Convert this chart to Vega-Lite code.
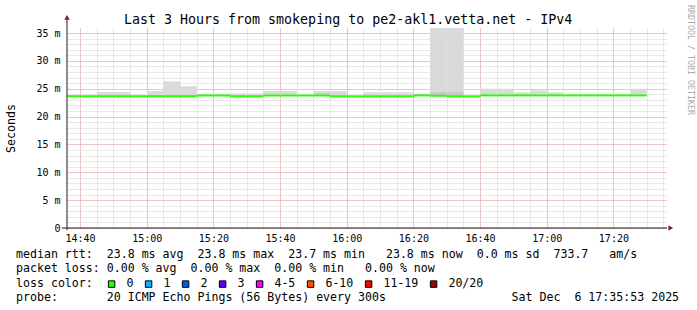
{
  "$schema": "https://vega.github.io/schema/vega-lite/v6.json",
  "width": 600,
  "height": 200,
  "autosize": {"type": "none"},
  "padding": {"left": 67, "top": 28, "right": 30, "bottom": 82},
  "background": "white",
  "config": {"view": {"stroke": null}, "font": "DejaVu Sans Mono"},
  "title": {
    "text": "Last 3 Hours from smokeping to pe2-akl1.vetta.net - IPv4",
    "font": "DejaVu Sans Mono",
    "fontSize": 13.3,
    "fontWeight": "normal",
    "color": "black",
    "anchor": "start",
    "frame": "group",
    "dx": 57,
    "dy": 35,
    "offset": 3,
    "baseline": "alphabetic"
  },
  "datasets": {
    "blocks": [
      {"t": 875, "t2": 880, "med": 23.66, "hi": null, "dhi": null, "loss": "0"},
      {"t": 880, "t2": 885, "med": 23.66, "hi": null, "dhi": null, "loss": "0"},
      {"t": 885, "t2": 890, "med": 23.66, "hi": 24.39, "dhi": null, "loss": "0"},
      {"t": 890, "t2": 895, "med": 23.66, "hi": 24.39, "dhi": null, "loss": "0"},
      {"t": 895, "t2": 900, "med": 23.66, "hi": null, "dhi": null, "loss": "0"},
      {"t": 900, "t2": 905, "med": 23.66, "hi": 24.57, "dhi": null, "loss": "0"},
      {"t": 905, "t2": 910, "med": 23.66, "hi": 26.33, "dhi": null, "loss": "0"},
      {"t": 910, "t2": 915, "med": 23.66, "hi": 25.44, "dhi": null, "loss": "0"},
      {"t": 915, "t2": 920, "med": 23.78, "hi": 24.07, "dhi": null, "loss": "0"},
      {"t": 920, "t2": 925, "med": 23.78, "hi": 24.07, "dhi": null, "loss": "0"},
      {"t": 925, "t2": 930, "med": 23.64, "hi": 24.16, "dhi": null, "loss": "0"},
      {"t": 930, "t2": 935, "med": 23.64, "hi": 24.16, "dhi": null, "loss": "0"},
      {"t": 935, "t2": 940, "med": 23.78, "hi": 24.57, "dhi": null, "loss": "0"},
      {"t": 940, "t2": 945, "med": 23.78, "hi": 24.57, "dhi": null, "loss": "0"},
      {"t": 945, "t2": 950, "med": 23.78, "hi": null, "dhi": null, "loss": "0"},
      {"t": 950, "t2": 955, "med": 23.78, "hi": 24.57, "dhi": 24.21, "loss": "0"},
      {"t": 955, "t2": 960, "med": 23.64, "hi": 24.57, "dhi": null, "loss": "0"},
      {"t": 960, "t2": 965, "med": 23.64, "hi": null, "dhi": null, "loss": "0"},
      {"t": 965, "t2": 970, "med": 23.64, "hi": 24.34, "dhi": null, "loss": "0"},
      {"t": 970, "t2": 975, "med": 23.64, "hi": 24.34, "dhi": null, "loss": "0"},
      {"t": 975, "t2": 980, "med": 23.64, "hi": 24.34, "dhi": null, "loss": "0"},
      {"t": 980, "t2": 985, "med": 23.8, "hi": 24.1, "dhi": null, "loss": "0"},
      {"t": 985, "t2": 990, "med": 23.74, "hi": 40, "dhi": 24.39, "loss": "0"},
      {"t": 990, "t2": 995, "med": 23.64, "hi": 40, "dhi": 24.39, "loss": "0"},
      {"t": 995, "t2": 1000, "med": 23.64, "hi": null, "dhi": null, "loss": "0"},
      {"t": 1000, "t2": 1005, "med": 23.8, "hi": 25.0, "dhi": null, "loss": "0"},
      {"t": 1005, "t2": 1010, "med": 23.8, "hi": 25.0, "dhi": null, "loss": "0"},
      {"t": 1010, "t2": 1015, "med": 23.8, "hi": 24.34, "dhi": null, "loss": "0"},
      {"t": 1015, "t2": 1020, "med": 23.8, "hi": 24.69, "dhi": null, "loss": "0"},
      {"t": 1020, "t2": 1025, "med": 23.8, "hi": 24.34, "dhi": null, "loss": "0"},
      {"t": 1025, "t2": 1030, "med": 23.8, "hi": null, "dhi": null, "loss": "0"},
      {"t": 1030, "t2": 1035, "med": 23.8, "hi": null, "dhi": null, "loss": "0"},
      {"t": 1035, "t2": 1040, "med": 23.8, "hi": null, "dhi": null, "loss": "0"},
      {"t": 1040, "t2": 1045, "med": 23.8, "hi": null, "dhi": null, "loss": "0"},
      {"t": 1045, "t2": 1050, "med": 23.8, "hi": 25.0, "dhi": null, "loss": "0"}
    ]
  },
  "data": {"name": "blocks"},
  "layer": [
    {
      "transform": [{"filter": {"field": "hi", "valid": true}}],
      "mark": {"type": "rect", "color": "#dadada", "clip": true},
      "encoding": {
        "x": {
          "field": "t", "type": "quantitative",
          "scale": {"domain": [876.0833, 1056.0833], "nice": false, "zero": false},
          "axis": {"orient": "bottom", "grid": true, "gridColor": "#d2d2d2", "gridDash": [1, 1], "gridWidth": 1, "values": [880, 885, 890, 895, 900, 905, 910, 915, 920, 925, 930, 935, 940, 945, 950, 955, 960, 965, 970, 975, 980, 985, 990, 995, 1000, 1005, 1010, 1015, 1020, 1025, 1030, 1035, 1040, 1045, 1050, 1055], "labels": false, "ticks": false, "domain": false, "title": null}
        },
        "x2": {"field": "t2"},
        "y": {
          "field": "med", "type": "quantitative",
          "scale": {"domain": [0, 35.9], "nice": false, "zero": false},
          "axis": {"orient": "left", "grid": true, "gridColor": "#d2d2d2", "gridDash": [1, 1], "gridWidth": 1, "values": [0, 1, 2, 3, 4, 5, 6, 7, 8, 9, 10, 11, 12, 13, 14, 15, 16, 17, 18, 19, 20, 21, 22, 23, 24, 25, 26, 27, 28, 29, 30, 31, 32, 33, 34, 35], "labels": false, "ticks": false, "domain": false, "title": null}
        },
        "y2": {"field": "hi"}
      }
    },
    {
      "transform": [{"filter": {"field": "dhi", "valid": true}}],
      "mark": {"type": "rect", "color": "#c9c9c9", "clip": true},
      "encoding": {
        "x": {"field": "t", "type": "quantitative", "axis": null},
        "x2": {"field": "t2"},
        "y": {"field": "med", "type": "quantitative", "axis": null},
        "y2": {"field": "dhi"}
      }
    },
    {
      "mark": {"type": "rule", "strokeWidth": 2, "clip": true, "color": "#26ff00"},
      "encoding": {
        "x": {
          "field": "t", "type": "quantitative",
          "axis": {"orient": "bottom", "grid": true, "gridColor": "#eba3a3", "gridDash": [1, 1], "gridWidth": 1, "values": [880, 900, 920, 940, 960, 980, 1000, 1020, 1040], "labelExpr": "floor(datum.value / 60) + ':' + (datum.value % 60 < 10 ? '0' : '') + (datum.value % 60)", "labelFont": "DejaVu Sans Mono", "labelFontSize": 10, "labelColor": "black", "labelPadding": 5, "labelFlush": false, "labelOverlap": false, "ticks": false, "domain": false, "title": null}
        },
        "x2": {"field": "t2"},
        "y": {
          "field": "med", "type": "quantitative",
          "axis": {"orient": "left", "grid": true, "gridColor": "#eba3a3", "gridDash": [1, 1], "gridWidth": 1, "values": [0, 5, 10, 15, 20, 25, 30, 35], "labelExpr": "datum.value == 0 ? '0\u00a0' : datum.value + ' m'", "labelFont": "DejaVu Sans Mono", "labelFontSize": 10, "labelColor": "black", "labelPadding": 7, "ticks": false, "domain": false, "title": "Seconds", "titleFont": "DejaVu Sans Mono", "titleFontSize": 11.6, "titleFontWeight": "normal", "titleColor": "black", "titleX": -56, "titleY": 100, "titleAngle": -90, "titleAlign": "center", "titleBaseline": "middle"}
        }
      }
    },
    {
      "mark": {"type": "point", "shape": "square", "filled": true, "opacity": 0, "size": 1},
      "encoding": {
        "x": {"field": "t", "type": "quantitative", "axis": null},
        "y": {"field": "med", "type": "quantitative", "axis": null},
        "fill": {
          "field": "loss", "type": "nominal",
          "scale": {"domain": ["0", "1", "2", "3", "4-5", "6-10", "11-19", "20/20"], "range": ["#26ff00", "#00b8ff", "#0059ff", "#5e00ff", "#ff00ff", "#ff5500", "#ff0000", "#a10000"]},
          "legend": {
            "orient": "none", "legendX": -51, "legendY": 250, "direction": "horizontal", "columns": 8,
            "title": "loss color:", "titleOrient": "left", "titleFont": "DejaVu Sans Mono", "titleFontSize": 11.6, "titleFontWeight": "normal", "titleColor": "black", "titlePadding": 12.8,
            "labelFont": "DejaVu Sans Mono", "labelFontSize": 11.6, "labelColor": "black", "labelOffset": 9,
            "symbolType": "square", "symbolSize": 42, "symbolStrokeWidth": 1, "symbolStrokeColor": "black", "symbolOpacity": 1, "columnPadding": 9, "padding": 0
          }
        }
      }
    },
    {
      "data": {"values": [{}]},
      "mark": {"type": "rule", "color": "#1f1f1f", "strokeWidth": 1},
      "encoding": {
        "x": {"datum": 876.0833, "type": "quantitative", "axis": null},
        "y": {"datum": -0.4, "type": "quantitative", "axis": null},
        "y2": {"datum": 37.5}
      }
    },
    {
      "data": {"values": [{}]},
      "mark": {"type": "rule", "color": "#1f1f1f", "strokeWidth": 1},
      "encoding": {
        "x": {"datum": 874.5, "type": "quantitative", "axis": null},
        "x2": {"datum": 1056.0833},
        "y": {"datum": 0, "type": "quantitative", "axis": null}
      }
    },
    {
      "data": {"values": [{}]},
      "mark": {"type": "point", "shape": "triangle-up", "filled": true, "color": "#7f1f1f", "size": 30, "opacity": 1},
      "encoding": {
        "x": {"datum": 876.0833, "type": "quantitative", "axis": null},
        "y": {"datum": 37.8, "type": "quantitative", "axis": null}
      }
    },
    {
      "data": {"values": [{}]},
      "mark": {"type": "point", "shape": "triangle-right", "filled": true, "color": "#7f1f1f", "size": 30, "opacity": 1},
      "encoding": {
        "x": {"datum": 1057.2, "type": "quantitative", "axis": null},
        "y": {"datum": 0, "type": "quantitative", "axis": null}
      }
    },
    {
      "data": {"values": [{}]},
      "mark": {"type": "text", "text": "RRDTOOL / TOBI OETIKER", "angle": 90, "font": "DejaVu Sans Mono", "fontSize": 8.3, "color": "#aaaaaa", "align": "center", "baseline": "middle"},
      "encoding": {
        "x": {"datum": 1063, "type": "quantitative", "axis": null},
        "y": {"datum": 30.16, "type": "quantitative", "axis": null}
      }
    },
    {
      "data": {"values": [{"text": "median\u00a0rtt:\u00a0\u00a023.8\u00a0ms\u00a0avg\u00a0\u00a023.8\u00a0ms\u00a0max\u00a0\u00a023.7\u00a0ms\u00a0min\u00a0\u00a0\u00a023.8\u00a0ms\u00a0now\u00a0\u00a00.0\u00a0ms\u00a0sd\u00a0\u00a0733.7\u00a0\u00a0\u00a0am/s"}]},
      "mark": {"type": "text", "align": "left", "baseline": "alphabetic", "font": "DejaVu Sans Mono", "fontSize": 11.6, "color": "black"},
      "encoding": {
        "x": {"datum": 860.78, "type": "quantitative", "axis": null},
        "y": {"datum": -5.44, "type": "quantitative", "axis": null},
        "text": {"field": "text"}
      }
    },
    {
      "data": {"values": [{"text": "packet\u00a0loss:\u00a00.00\u00a0%\u00a0avg\u00a0\u00a00.00\u00a0%\u00a0max\u00a0\u00a00.00\u00a0%\u00a0min\u00a0\u00a0\u00a00.00\u00a0%\u00a0now"}]},
      "mark": {"type": "text", "align": "left", "baseline": "alphabetic", "font": "DejaVu Sans Mono", "fontSize": 11.6, "color": "black"},
      "encoding": {
        "x": {"datum": 860.78, "type": "quantitative", "axis": null},
        "y": {"datum": -7.95, "type": "quantitative", "axis": null},
        "text": {"field": "text"}
      }
    },
    {
      "data": {"values": [{"text": "probe:\u00a0\u00a0\u00a0\u00a0\u00a0\u00a0\u00a020\u00a0ICMP\u00a0Echo\u00a0Pings\u00a0(56\u00a0Bytes)\u00a0every\u00a0300s\u00a0\u00a0\u00a0\u00a0\u00a0\u00a0\u00a0\u00a0\u00a0\u00a0\u00a0\u00a0\u00a0\u00a0\u00a0\u00a0\u00a0\u00a0Sat\u00a0Dec\u00a0\u00a06\u00a017:35:53\u00a02025"}]},
      "mark": {"type": "text", "align": "left", "baseline": "alphabetic", "font": "DejaVu Sans Mono", "fontSize": 11.6, "color": "black"},
      "encoding": {
        "x": {"datum": 860.78, "type": "quantitative", "axis": null},
        "y": {"datum": -13.05, "type": "quantitative", "axis": null},
        "text": {"field": "text"}
      }
    }
  ],
  "resolve": {"axis": {"x": "independent", "y": "independent"}}
}
